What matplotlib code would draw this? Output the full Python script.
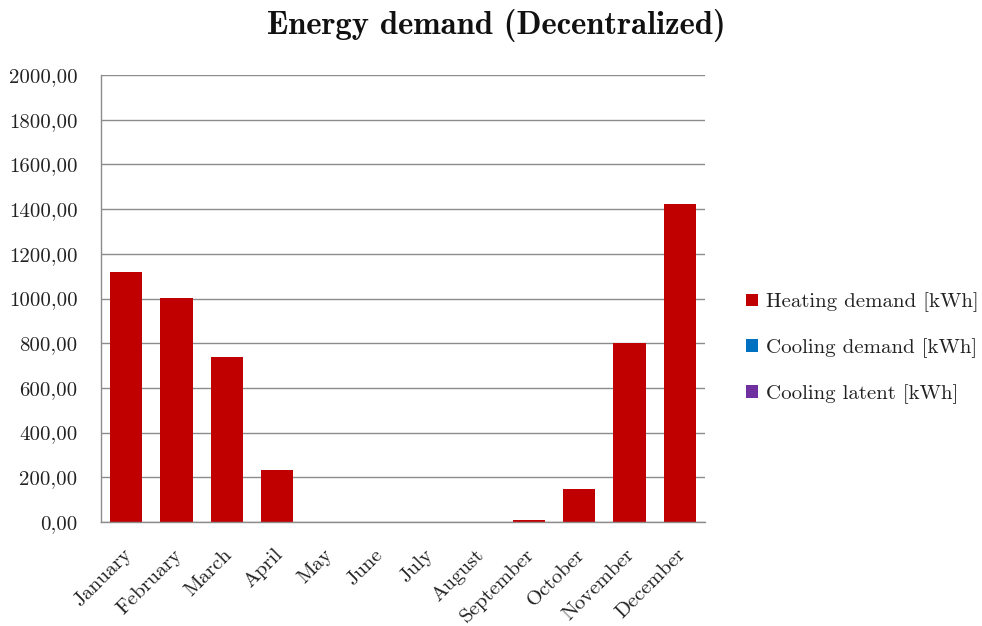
import matplotlib
matplotlib.use("Agg")
import matplotlib.pyplot as plt
import matplotlib.transforms as mtransforms
from matplotlib.patches import Patch
import numpy as np

months = ["January", "February", "March", "April", "May", "June", "July",
          "August", "September", "October", "November", "December"]
heating = [1118, 1003, 738, 233, 0, 0, 0, 0, 8, 147, 801, 1423]
cooling = [0, 0, 0, 0, 0, 0, 0, 0, 0, 0, 0, 0]
cooling_latent = [0, 0, 0, 0, 0, 0, 0, 0, 0, 0, 0, 0]
series_names = ["Heating demand [kWh]", "Cooling demand [kWh]", "Cooling latent [kWh]"]
series_colors = ["#c00000", "#0070c0", "#7030a0"]
y_ticks = [0, 200, 400, 600, 800, 1000, 1200, 1400, 1600, 1800, 2000]

plt.rcParams["axes.formatter.use_mathtext"] = True
plt.rcParams["font.family"] = ["cmr10", "DejaVu Serif"]

fig = plt.figure(figsize=(9.82, 6.26), dpi=100)
ax = fig.add_axes([101 / 982, 1 - 522 / 626, 604 / 982, 447 / 626])

x = np.arange(len(months))
# cooling series sit underneath the heating bars (all zero here)
for vals, color, z in zip([cooling_latent, cooling, heating],
                          series_colors[::-1], [1, 2, 3]):
    ax.bar(x, vals, width=0.64, color=color, zorder=z, linewidth=0)

ax.set_xlim(-0.5, len(months) - 0.5)
ax.set_ylim(0, 2000)
ax.set_yticks(y_ticks)
ax.set_yticklabels([f"{v},00" for v in y_ticks], fontsize=15, color="#222222")
ax.set_xticks(x)
ax.set_xticklabels(months, rotation=45, ha="right", rotation_mode="anchor",
                   fontsize=15, color="#222222")
ax.tick_params(axis="y", length=0, pad=17)
ax.tick_params(axis="x", length=0, pad=17)

shift = mtransforms.ScaledTranslation(-4 / 100, 0, fig.dpi_scale_trans)
for lbl in ax.get_xticklabels():
    lbl.set_transform(lbl.get_transform() + shift)

ax.grid(axis="y", color="#8c8c8c", linewidth=1.0, zorder=0)
for side in ["top", "right"]:
    ax.spines[side].set_visible(False)
for side in ["left", "bottom"]:
    ax.spines[side].set_color("#8c8c8c")
    ax.spines[side].set_linewidth(1.0)
    ax.spines[side].set_zorder(4)

fig.text(496 / 982, 1 - 25 / 626, "Energy demand (Decentralized)", ha="center",
         va="center", fontsize=23.5, fontfamily=["cmb10", "DejaVu Serif"], color="#111111")

handles = [Patch(facecolor=c, edgecolor="none") for c in series_colors]
fig.legend(handles, series_names, loc="center left",
           bbox_to_anchor=(736 / 982, 1 - 348 / 626), frameon=False,
           fontsize=15, handlelength=0.55, handleheight=0.55, handletextpad=0.4,
           labelspacing=1.25, labelcolor="#222222", borderpad=0)

fig.savefig("out.png", dpi=100)
